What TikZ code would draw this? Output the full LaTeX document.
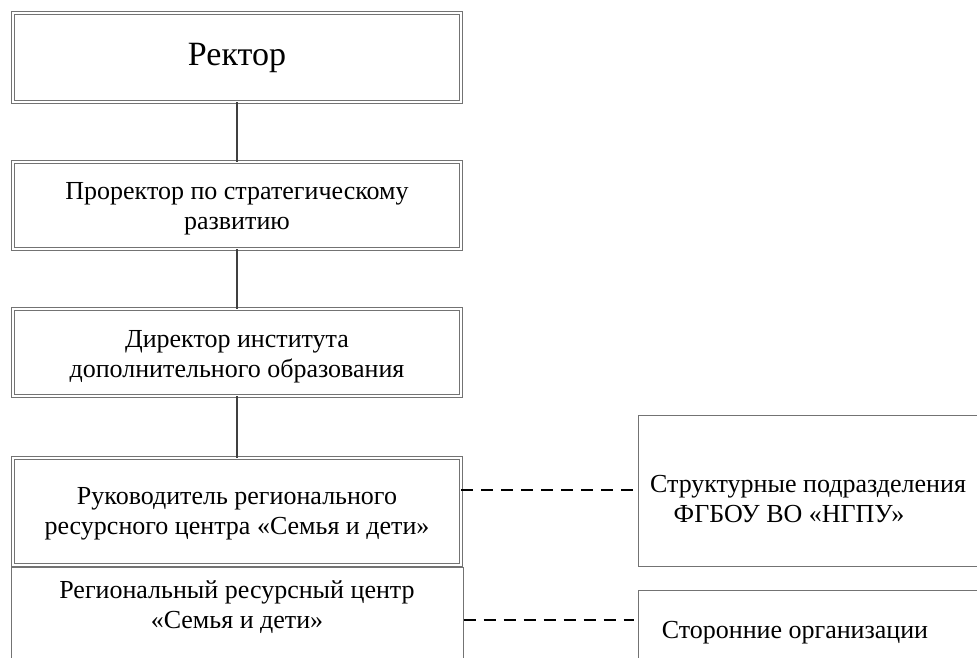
\documentclass[tikz,border=0pt]{standalone}
\usepackage{fontspec}
\setmainfont{Liberation Serif}
\begin{document}
\begin{tikzpicture}[x=1pt,y=-1pt,
  txt/.style={font=\fontsize{26}{30}\selectfont, align=center, inner sep=0pt, anchor=base},
  dbox/.style={draw=black!55, double=white, double distance=2.6pt, line width=0.9pt,
    inner sep=0pt, minimum width=448},
  sbox/.style={draw=black!55, line width=1pt, inner sep=0pt},
  conn/.style={draw=black!75, line width=2.6pt},
  dconn/.style={draw=black, line width=1.8pt, dash pattern=on 12pt off 8pt}]
\path[use as bounding box] (0,0) rectangle (977,658);
\clip (0,0) rectangle (977,658);
% left column
\node[dbox, minimum height=89] (rektor) at (237,57.5) {};
\node[txt, font=\fontsize{34}{38}\selectfont] (rektortext) at (237,66) {Ректор};
\node[dbox, minimum height=87] (prorektor) at (237,205.5) {};
\node[txt] (prorektortext) at (237,229.5) {Проректор по стратегическому\\развитию};
\node[dbox, minimum height=87] (direktor) at (237,352.5) {};
\node[txt] (direktortext) at (237,377) {Директор института\\дополнительного образования};
\node[dbox, minimum height=107] (ruk) at (237,511.5) {};
\node[txt] (ruktext) at (237,534) {Руководитель регионального\\ресурсного центра «Семья и дети»};
\node[sbox, minimum width=452, minimum height=134, anchor=north] (rrc) at (237,566.5) {};
\node[txt] (rrctext) at (237,628.5) {Региональный ресурсный центр\\«Семья и дети»};
% right column
\node[sbox, minimum width=362, minimum height=151, anchor=north west] (strukt) at (638,415) {};
\node[txt] (strukttext1) at (808,492) {Структурные подразделения};
\node[txt] (strukttext2) at (789,522) {ФГБОУ ВО «НГПУ»};
\node[sbox, minimum width=362, minimum height=120, anchor=north west] (storon) at (638,590) {};
\node[txt] (storontext) at (795,638) {Сторонние организации};
% connectors
\draw[conn] (rektor) -- (prorektor);
\draw[conn] (prorektor) -- (direktor);
\draw[conn] (direktor) -- (ruk);
\coordinate (d1) at (638,490);
\draw[dconn] (d1 -| ruk.east) -- (d1);
\coordinate (d2) at (634,620);
\draw[dconn] (d2 -| rrc.east) -- (d2);
\end{tikzpicture}
\end{document}
